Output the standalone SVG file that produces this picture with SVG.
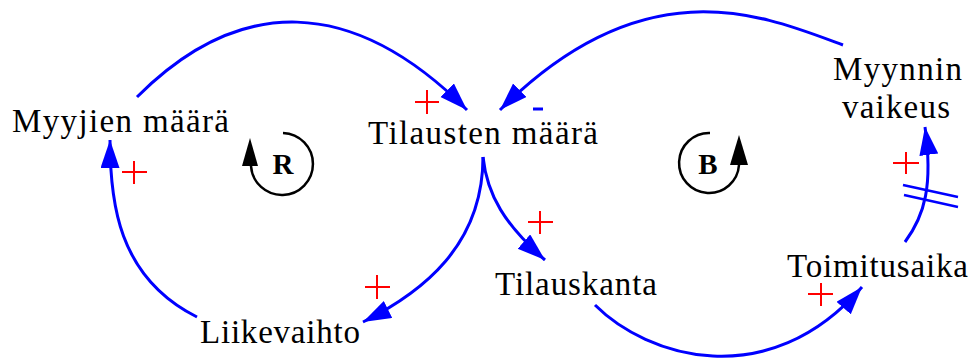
<svg xmlns="http://www.w3.org/2000/svg" width="976" height="358" viewBox="0 0 976 358">
<style>
.lbl{font-family:"Liberation Serif","Times New Roman",serif;font-size:33px;fill:#000}
.link{fill:none;stroke:#0000FF;stroke-width:3}
.plus{stroke:#FF0000;stroke-width:2;fill:none}
.loop{fill:none;stroke:#000;stroke-width:2.5}
.loopTxt{font-family:"Liberation Serif","Times New Roman",serif;font-size:29px;font-weight:bold;fill:#000;text-anchor:middle}
</style>
<defs>
<marker id="ah" markerUnits="userSpaceOnUse" markerWidth="30" markerHeight="20" refX="28" refY="9.5" orient="auto" viewBox="0 0 30 20">
<path d="M0,0 L28,9.5 L0,19 z" fill="#0000FF"/>
</marker>
</defs>
<rect width="976" height="358" fill="#fff"/>

<g id="connectors">
<path class="link" d="M137,97 C239,-5 352,-5 467,110" marker-end="url(#ah)"/>
<path class="link" d="M843,45 C765,16 646,-36 500,110" marker-end="url(#ah)"/>
<path class="link" d="M483,157 C483,245 423,292 363,322" marker-end="url(#ah)"/>
<path class="link" d="M197,317 C117,277 110,200 110,140" marker-end="url(#ah)"/>
<path class="link" d="M483,157 C487,195 505,225 545,260" marker-end="url(#ah)"/>
<path class="link" d="M595,305 C647,357 768,395 862,287" marker-end="url(#ah)"/>
<path class="link" d="M905,242 C925,215 933,185 925,127" marker-end="url(#ah)"/>
<g id="delay" stroke="#0000FF" stroke-width="2.5">
<line x1="903" y1="185" x2="958" y2="197"/>
<line x1="904" y1="195" x2="958" y2="207"/>
</g>
<g id="polarities">
<path class="plus" d="M415,102 H439 M427,90 V114"/>
<path class="plus" d="M122,172 H147 M134,161 V184"/>
<path class="plus" d="M365,287 H390 M377,275 V299"/>
<path class="plus" d="M528,222 H553 M540,211 V234"/>
<path class="plus" d="M808,294 H833 M821,283 V306"/>
<path class="plus" d="M893,163 H919 M906,152 V174"/>
<path d="M533,109 H543" stroke="#0000FF" stroke-width="3"/>
</g>
</g>

<g id="n_myyjien"><text class="lbl" x="12" y="132" textLength="217" lengthAdjust="spacing">Myyjien määrä</text></g>
<g id="n_tilausten"><text class="lbl" x="368" y="144" textLength="230" lengthAdjust="spacing">Tilausten määrä</text></g>
<g id="n_myynnin">
<text class="lbl" x="833" y="80" textLength="129" lengthAdjust="spacing">Myynnin</text>
<text class="lbl" x="842" y="118" textLength="108" lengthAdjust="spacing">vaikeus</text>
</g>
<g id="n_liikevaihto"><text class="lbl" x="200" y="343" textLength="160" lengthAdjust="spacing">Liikevaihto</text></g>
<g id="n_tilauskanta"><text class="lbl" x="495" y="295" textLength="162" lengthAdjust="spacing">Tilauskanta</text></g>
<g id="n_toimitusaika"><text class="lbl" x="787" y="277" textLength="181" lengthAdjust="spacing">Toimitusaika</text></g>

<g id="loop_R">
<path class="loop" d="M283,133 A31,31 0 1 1 251,166"/>
<path d="M242,166 L258,166 L250,138 z" fill="#000"/>
<text class="loopTxt" x="283" y="174">R</text>
</g>
<g id="loop_B">
<path class="loop" d="M710,133 A30,30 0 1 0 739,165"/>
<path d="M730,165 L748,165 L739,135 z" fill="#000"/>
<text class="loopTxt" x="708" y="174">B</text>
</g>
</svg>
